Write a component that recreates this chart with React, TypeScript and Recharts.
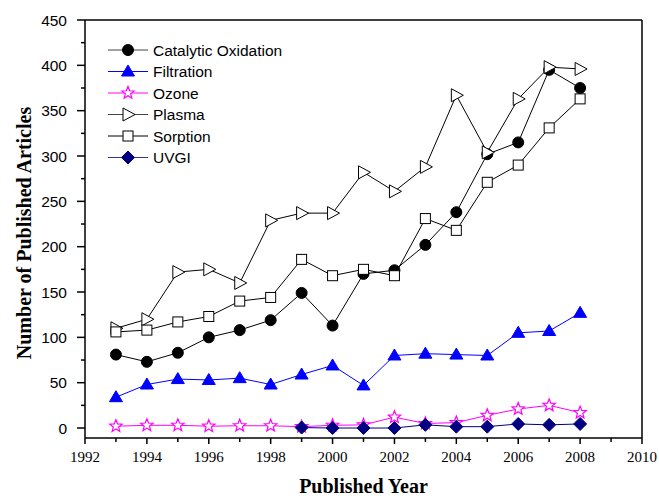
import React from "react";
import { LineChart, Line, XAxis, YAxis, ReferenceLine, Legend } from "recharts";

const years = [1993, 1994, 1995, 1996, 1997, 1998, 1999, 2000, 2001, 2002, 2003, 2004, 2005, 2006, 2007, 2008];
const catalytic = [81, 73, 83, 100, 108, 119, 149, 113, 170, 174, 202, 238, 302, 315, 395, 375];
const filtration = [34, 48, 54, 53, 55, 48, 59, 69, 47, 80, 82, 81, 80, 105, 107, 127];
const ozone = [2, 3, 3, 2, 2.5, 2.5, 1.5, 3, 3.5, 12, 5, 6, 14, 21, 25, 17];
const plasma = [110, 120, 172, 175, 160, 229, 237, 237, 282, 261, 288, 367, 304, 363, 398, 396];
const sorption = [106, 108, 117, 123, 140, 144, 186, 168, 175, 168, 231, 218, 271, 290, 331, 363];
const uvgi: (number | null)[] = [null, null, null, null, null, null, 0.5, 0, 0, 0, 3.5, 1.5, 1.5, 4.5, 3.5, 4.5];

const xTicks = [1992, 1993, 1994, 1995, 1996, 1997, 1998, 1999, 2000, 2001, 2002, 2003, 2004, 2005, 2006, 2007, 2008, 2009, 2010];
const yTicks = [0, 25, 50, 75, 100, 125, 150, 175, 200, 225, 250, 275, 300, 325, 350, 375, 400, 425, 450];

const data = years.map((y, i) => ({
  year: y,
  catalytic: catalytic[i],
  filtration: filtration[i],
  ozone: ozone[i],
  plasma: plasma[i],
  sorption: sorption[i],
  uvgi: uvgi[i],
}));

const SERIF = "'Liberation Serif', 'Times New Roman', serif";
const SANS = "'Liberation Sans', Arial, sans-serif";

type ShapeKind = "circle" | "triUp" | "star" | "triRight" | "square" | "diamond";

function starPath(cx: number, cy: number, ro: number, ri: number) {
  let d = "";
  for (let k = 0; k < 10; k++) {
    const r = k % 2 === 0 ? ro : ri;
    const a = -Math.PI / 2 + (k * Math.PI) / 5;
    d += (k === 0 ? "M" : "L") + (cx + r * Math.cos(a)).toFixed(2) + "," + (cy + r * Math.sin(a)).toFixed(2);
  }
  return d + "Z";
}

function Marker({ kind, cx, cy, color }: { kind: ShapeKind; cx: number; cy: number; color: string }) {
  switch (kind) {
    case "circle":
      return <circle cx={cx} cy={cy} r={5.5} fill="#000" stroke="#000" />;
    case "triUp":
      return <path d={`M${cx},${cy - 6.5}L${cx + 6.5},${cy + 4.5}L${cx - 6.5},${cy + 4.5}Z`} fill={color} stroke={color} />;
    case "star":
      return <path d={starPath(cx, cy, 6.5, 2.8)} fill="#fff" stroke={color} strokeWidth={1.2} />;
    case "triRight":
      return <path d={`M${cx - 5},${cy - 6.5}L${cx + 7},${cy}L${cx - 5},${cy + 6.5}Z`} fill="#fff" stroke="#000" strokeWidth={1} />;
    case "square":
      return <rect x={cx - 5} y={cy - 5} width={10} height={10} fill="#fff" stroke="#000" strokeWidth={1} />;
    case "diamond":
      return <path d={`M${cx},${cy - 6.5}L${cx + 6.5},${cy}L${cx},${cy + 6.5}L${cx - 6.5},${cy}Z`} fill={color} stroke={color} />;
  }
  return null;
}

const makeDot = (kind: ShapeKind, color: string) => (props: any) => {
  const { cx, cy, index, value } = props;
  if (value === null || value === undefined || cx == null || cy == null) return <g key={`n${index}`} />;
  return <Marker key={`${kind}${index}`} kind={kind} cx={cx} cy={cy} color={color} />;
};

const seriesDefs: { key: string; name: string; color: string; legendLine: string; kind: ShapeKind }[] = [
  { key: "catalytic", name: "Catalytic Oxidation", color: "#000000", legendLine: "#444444", kind: "circle" },
  { key: "filtration", name: "Filtration", color: "#0000ff", legendLine: "#0000ff", kind: "triUp" },
  { key: "ozone", name: "Ozone", color: "#ff00ff", legendLine: "#ff00ff", kind: "star" },
  { key: "plasma", name: "Plasma", color: "#000000", legendLine: "#444444", kind: "triRight" },
  { key: "sorption", name: "Sorption", color: "#000000", legendLine: "#000000", kind: "square" },
  { key: "uvgi", name: "UVGI", color: "#000080", legendLine: "#333399", kind: "diamond" },
];

const XTick = (props: any) => {
  const { x, y, payload } = props;
  const v = payload.value as number;
  const major = v % 2 === 0;
  return (
    <g>
      <line x1={x} y1={y} x2={x} y2={y + (major ? 6 : 4)} stroke="#000" strokeWidth={1.5} />
      {major && (
        <text x={x} y={y + 24} textAnchor="middle" fontFamily={SERIF} fontSize={15} fill="#000">
          {v}
        </text>
      )}
    </g>
  );
};

const YTick = (props: any) => {
  const { x, y, payload } = props;
  const v = payload.value as number;
  const major = v % 50 === 0;
  return (
    <g>
      <line x1={x - (major ? 8 : 4)} y1={y} x2={x} y2={y} stroke="#000" strokeWidth={1.5} />
      {major && (
        <text x={x - 18} y={y} dy="0.36em" textAnchor="end" fontFamily={SANS} fontSize={15.5} fill="#000">
          {v}
        </text>
      )}
    </g>
  );
};

const LegendContent = () => (
  <svg width={230} height={135} style={{ display: "block" }}>
    {seriesDefs.map((s, i) => {
      const cy = 8 + i * 21.5;
      return (
        <g key={s.key}>
          <line x1={0} y1={cy} x2={40} y2={cy} stroke={s.legendLine} strokeWidth={1} />
          <Marker kind={s.kind} cx={20} cy={cy} color={s.color} />
          <text x={45} y={cy} dy="0.36em" fontFamily={SANS} fontSize={15.5} fill="#000">
            {s.name}
          </text>
        </g>
      );
    })}
  </svg>
);

export default function App() {
  return (
    <div style={{ position: "absolute", left: 0, top: 0, width: 659, height: 496, background: "#fff" }}>
      <LineChart width={659} height={496} data={data} margin={{ top: 20, right: 17, bottom: 0, left: 0 }}>
        <XAxis
          dataKey="year"
          type="number"
          domain={[1992, 2010]}
          ticks={xTicks}
          interval={0}
          tickSize={0}
          tickMargin={0}
          tickLine={false}
          tick={<XTick />}
          height={58}
          axisLine={{ stroke: "#000", strokeWidth: 1.5 }}
          allowDataOverflow
          label={{
            content: (p: any) => {
              const vb = p.viewBox || {};
              return (
                <text x={vb.x + vb.width / 2} y={vb.y + 55} textAnchor="middle" fontFamily={SERIF} fontWeight="bold" fontSize={20} fill="#000">
                  Published Year
                </text>
              );
            },
          }}
        />
        <YAxis
          type="number"
          domain={[-11, 450]}
          ticks={yTicks}
          interval={0}
          tickSize={0}
          tickMargin={0}
          tickLine={false}
          tick={<YTick />}
          width={85}
          axisLine={{ stroke: "#000", strokeWidth: 1.5 }}
          allowDataOverflow
          label={{
            content: (p: any) => {
              const vb = p.viewBox || {};
              const cx = vb.x + 24;
              const cy = vb.y + vb.height / 2 + 4;
              return (
                <text x={cx} y={cy} transform={`rotate(-90 ${cx} ${cy})`} dy="0.35em" textAnchor="middle" fontFamily={SERIF} fontWeight="bold" fontSize={20} fill="#000">
                  Number of Published Articles
                </text>
              );
            },
          }}
        />
        <ReferenceLine y={450} stroke="#000" strokeWidth={1.5} />
        <ReferenceLine x={2010} stroke="#000" strokeWidth={1.5} />
        <Legend
          layout="vertical"
          align="center"
          verticalAlign="middle"
          content={<LegendContent />}
          wrapperStyle={{ position: "absolute", left: 108, top: 42, width: 230, height: 135 }}
        />
        {seriesDefs.map((s) => (
          <Line
            key={s.key}
            dataKey={s.key}
            name={s.name}
            stroke={s.color}
            strokeWidth={1}
            dot={makeDot(s.kind, s.color)}
            activeDot={false}
            isAnimationActive={false}
            legendType="none"
          />
        ))}
      </LineChart>
    </div>
  );
}
